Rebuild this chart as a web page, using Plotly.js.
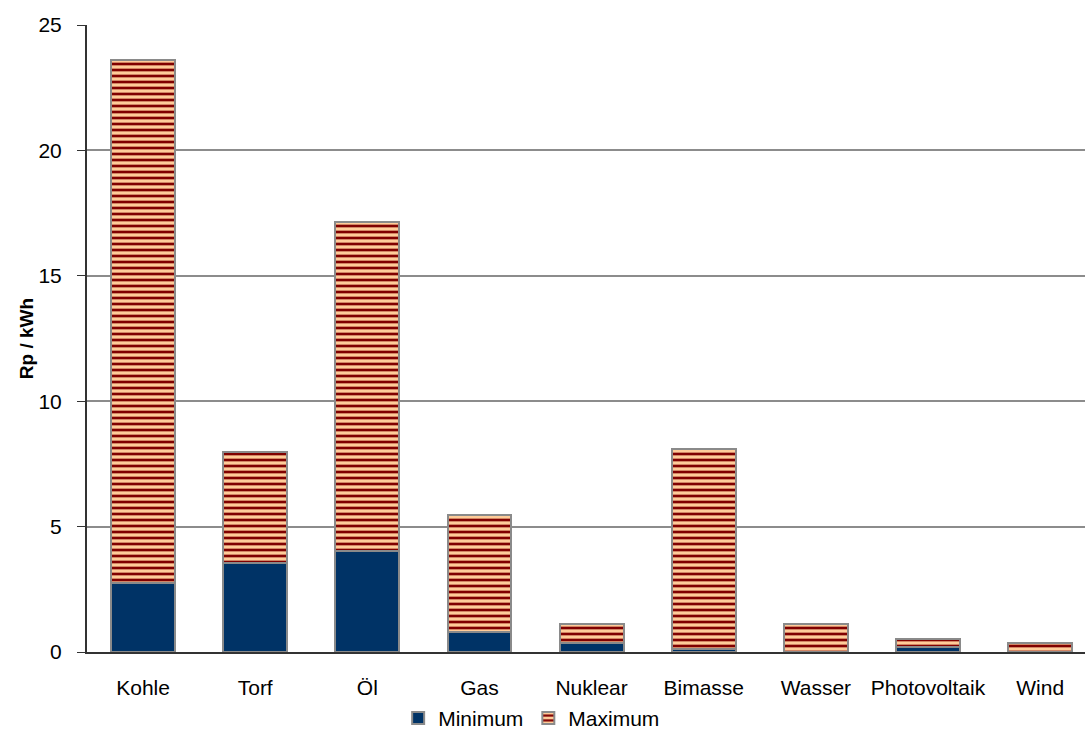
<!DOCTYPE html>
<html>
<head>
<meta charset="utf-8">
<script src="https://cdn.plot.ly/plotly-3.0.1.min.js"></script>
<style>html,body{margin:0;padding:0;background:#fff;}#chart{width:1085px;height:736px;}</style>
</head>
<body>
<div id="chart"></div>
<script>
const categories = ["Kohle", "Torf", "Öl", "Gas", "Nuklear", "Bimasse", "Wasser", "Photovoltaik", "Wind"];
const minimum = [2.75, 3.56, 4.03, 0.78, 0.36, 0.12, 0.0, 0.21, 0.0];
const maximum = [20.85, 4.42, 13.12, 4.69, 0.74, 7.97, 1.1, 0.31, 0.36];
const yTicks = [0, 5, 10, 15, 20, 25];

const font = "Liberation Sans, Arial, sans-serif";

const traces = [
  {
    type: "bar", name: "Minimum", x: categories, y: minimum,
    marker: {color: "#003366", line: {color: "#8a8a8a", width: 2}},
    hoverinfo: "x+y"
  },
  {
    type: "bar", name: "Maximum", x: categories, y: maximum,
    marker: {
      color: "#FFCC99",
      line: {color: "#8a8a8a", width: 2},
      pattern: {shape: "-", fgcolor: "#800000", bgcolor: "#FFCC99", size: 6, solidity: 0.45, fillmode: "replace"}
    },
    hoverinfo: "x+y"
  }
];

const layout = {
  width: 1085, height: 736,
  margin: {l: 87, r: 0, t: 25, b: 84},
  barmode: "stack",
  bargap: 0.43,
  paper_bgcolor: "#fff", plot_bgcolor: "#fff",
  font: {family: font, size: 21, color: "#000"},
  showlegend: true,
  legend: {orientation: "h", xref: "container", yref: "container",
           x: 0.49, xanchor: "center", y: 0.024, yanchor: "middle",
           font: {family: font, size: 21, color: "#000"}, traceorder: "normal", itemwidth: 30,
           bgcolor: "rgba(0,0,0,0)"},
  xaxis: {
    type: "category", range: [-0.5, 8.4],
    showline: true, linecolor: "#333", linewidth: 2,
    ticks: "", showgrid: false, zeroline: false,
    tickfont: {family: font, size: 21, color: "#000"},
    ticklabelstandoff: 16, automargin: false
  },
  yaxis: {
    range: [0, 25], tickvals: yTicks, ticktext: yTicks.map(String),
    showline: true, linecolor: "#333", linewidth: 2,
    ticks: "outside", ticklen: 8, tickcolor: "#333", tickwidth: 1,
    showgrid: true, gridcolor: "#8c8c8c", gridwidth: 2, zeroline: false,
    tickfont: {family: font, size: 21, color: "#000"},
    ticklabelstandoff: 11, automargin: false,
    title: {text: "<b>Rp / kWh</b>", font: {family: font, size: 19, color: "#000"}, standoff: 0}
  }
};

Plotly.newPlot("chart", traces, layout, {displayModeBar: false, staticPlot: true});
</script>
</body>
</html>
